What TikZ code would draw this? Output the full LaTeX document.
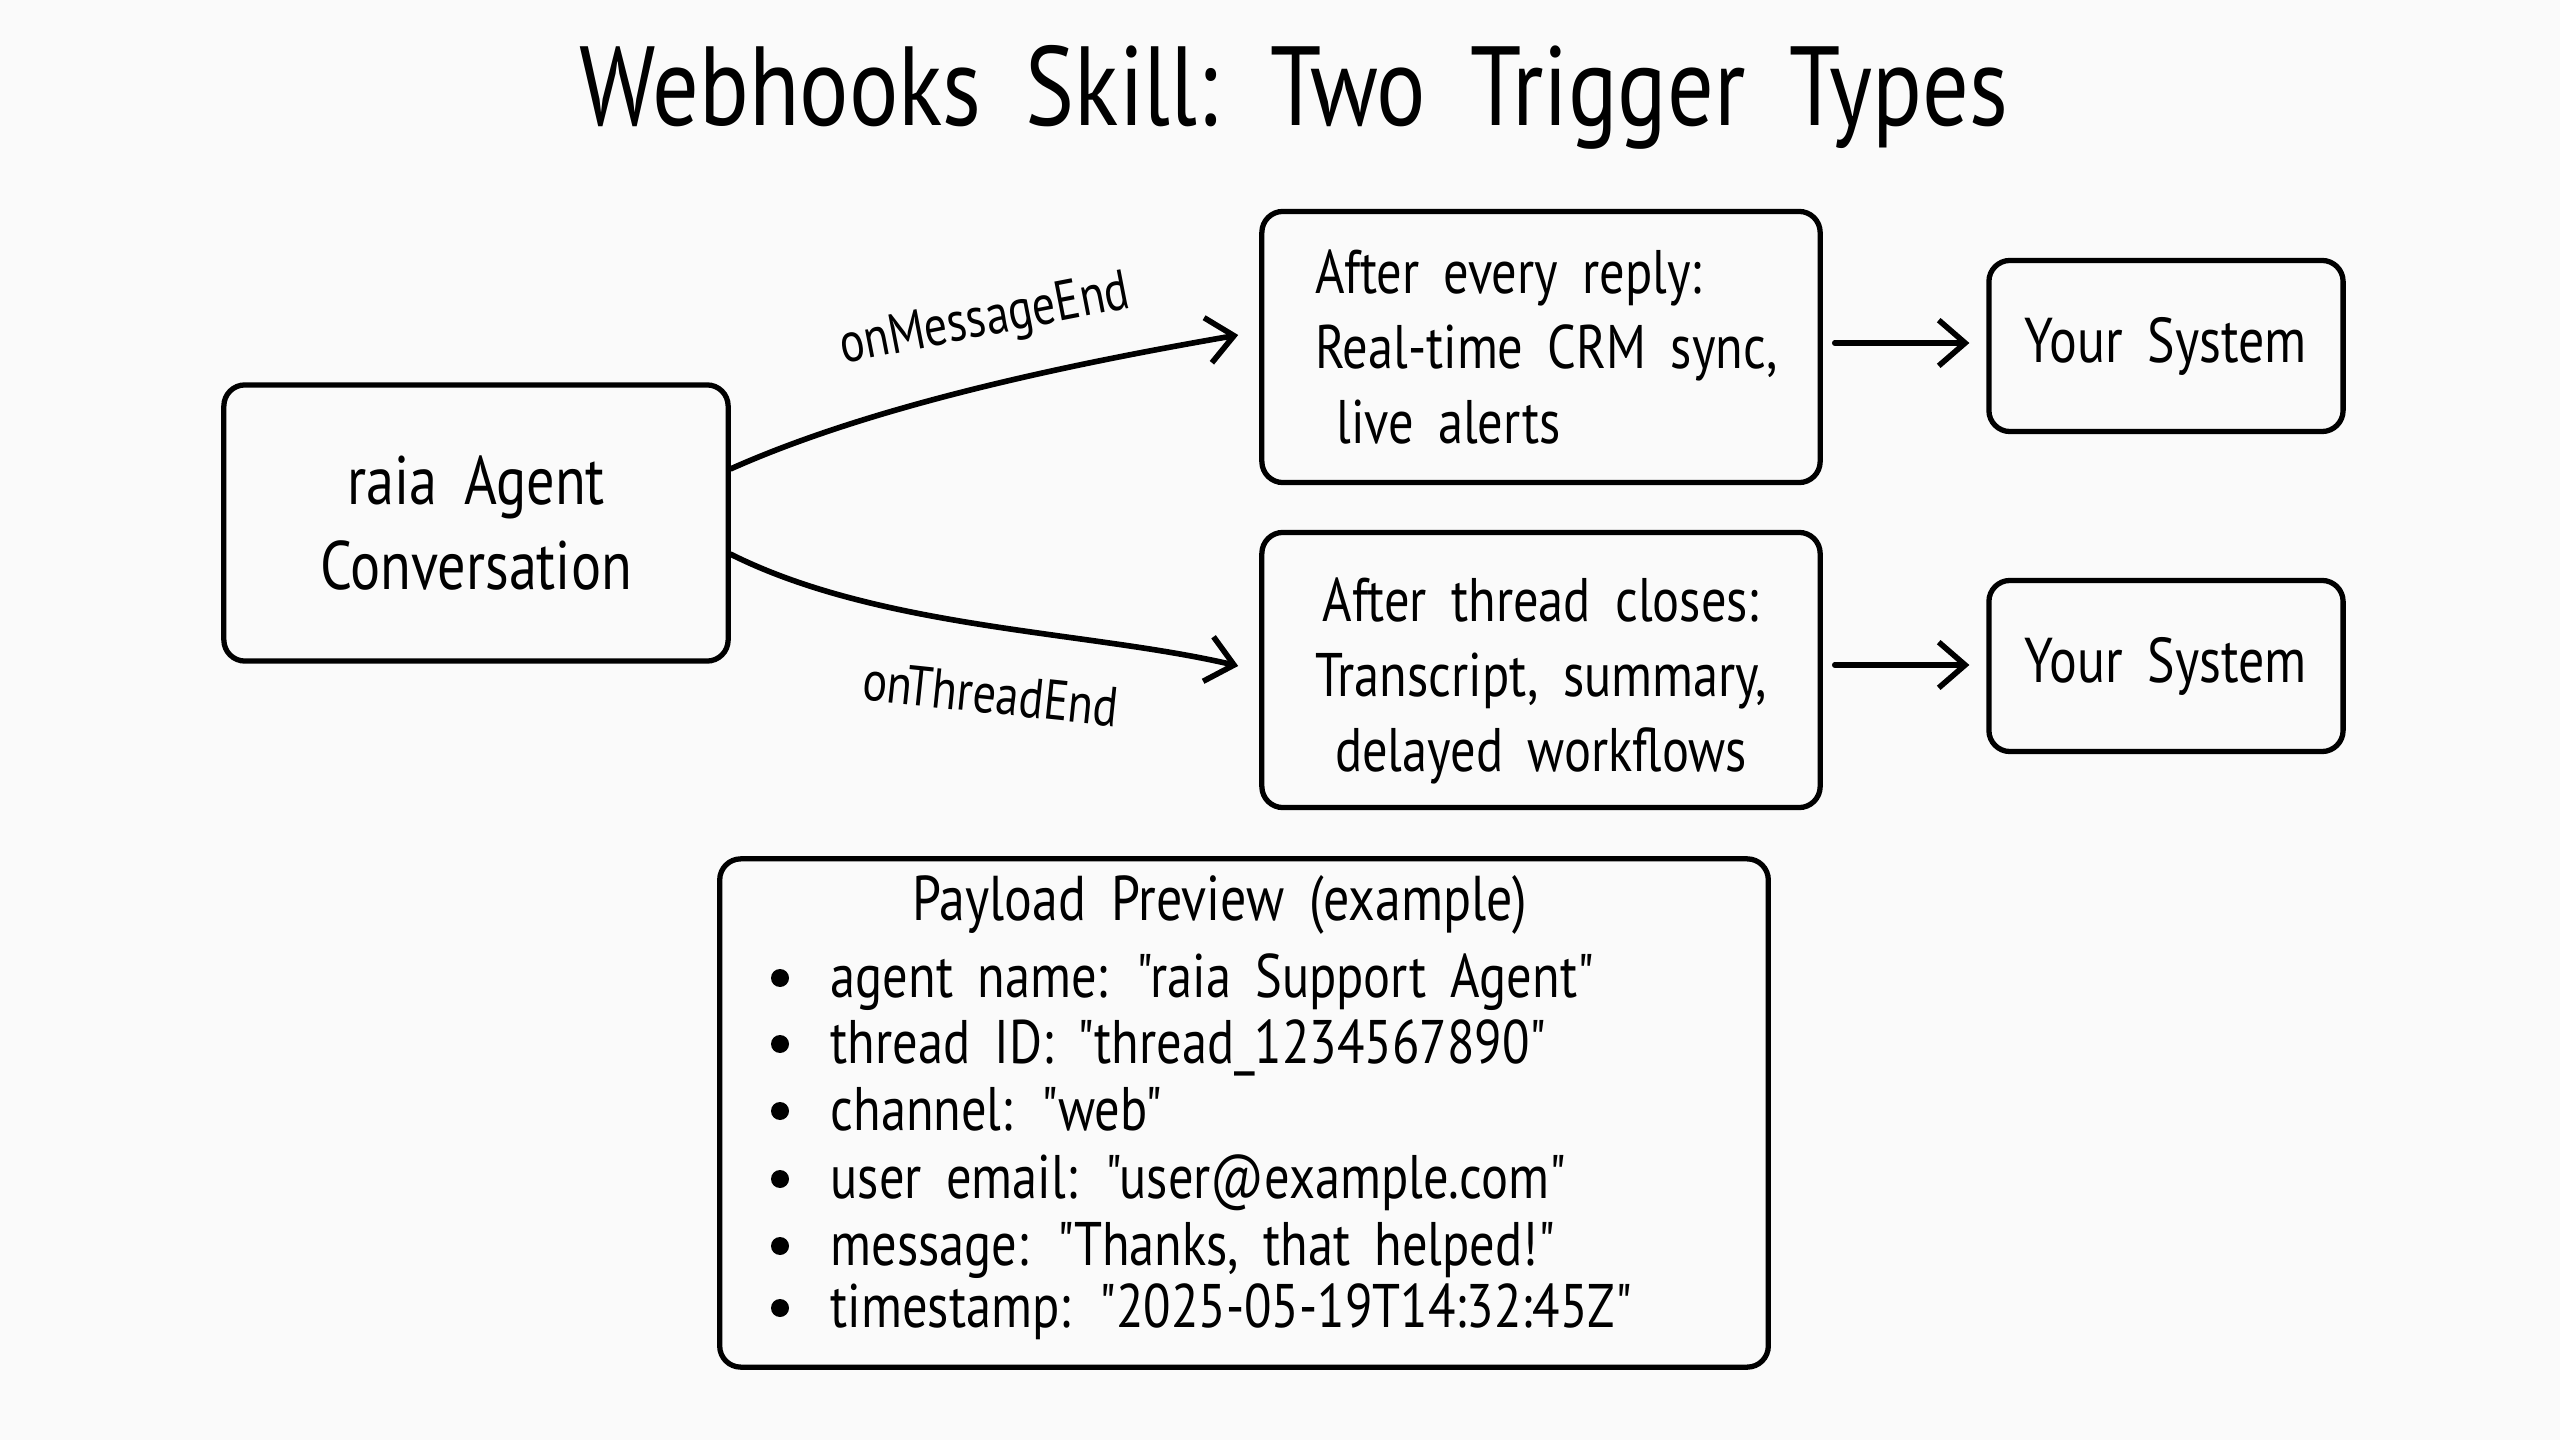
\documentclass[tikz,border=0pt]{standalone}
\usepackage{fontspec}
\setmainfont[FakeStretch=0.82, WordSpace=1.8, Ligatures=TeXOff]{PT Sans}
\usetikzlibrary{arrows.meta,calc}
\definecolor{bg}{RGB}{250,250,250}
\begin{document}
\begin{tikzpicture}[x=0.01cm,y=-0.01cm,
  box/.style={draw, line width=1.5pt, rounded corners=6pt, inner sep=0pt},
  conn/.style={line width=1.6pt, line cap=round, -{Straight Barb[length=7.5pt,width=13pt,line width=1.6pt]}},
  lbl/.style={inner sep=0pt, font=\fontsize{16}{18}\selectfont},
  boxtext/.style={font=\fontsize{17.5}{21.3}\selectfont},
  itemline/.style={anchor=base west, inner sep=0pt, font=\fontsize{17.5}{18}\selectfont},
  bulletdot/.style={fill=black}]
\fill[bg] (0,0) rectangle (2560,1440);
\useasboundingbox (0,0) rectangle (2560,1440);

\node[inner sep=0pt, anchor=base, font=\fontsize{32}{36}\selectfont] (title) at (1294,126) {Webhooks Skill: Two Trigger Types};

\node[box, minimum width=5.04cm, minimum height=2.76cm, align=center, font=\fontsize{19.5}{24}\selectfont] (conv) at (476,523) {raia Agent\\Conversation};

\node[box, boxtext, minimum width=5.58cm, minimum height=2.71cm, align=left] (msg) at (1541,347) {\hspace{3pt}After every reply:\\\hspace{3pt}Real-time CRM sync,\\\hspace{9pt}live alerts};
\node[box, boxtext, minimum width=5.58cm, minimum height=2.75cm, align=center] (thr) at (1541,670) {\rule{0pt}{18.6pt}After thread closes:\\Transcript, summary,\\delayed workflows};

\node[box, minimum width=3.54cm, minimum height=1.71cm, font=\fontsize{18}{22}\selectfont] (sys1) at (2166,346) {Your System};
\node[box, minimum width=3.54cm, minimum height=1.71cm, font=\fontsize{18}{22}\selectfont] (sys2) at (2166,666) {Your System};

\draw[conn] (conv.12) .. controls +(150,-67) and +(-150,26) .. ($(msg.west)+(-21,-12)$);
\draw[conn] (conv.-7) .. controls +(150,75) and +(-150,-35) .. ($(thr.west)+(-21,-4)$);
\node[lbl, rotate=11] (lm) at (985,322) {onMessageEnd};
\node[lbl, rotate=-6] (lt) at (991,694) {onThreadEnd};

\draw[conn, shorten <=3.4pt, shorten >=4.8pt] ($(msg.east)+(0,-4)$) -- ($(sys1.west)+(0,-3)$);
\draw[conn, shorten <=3.4pt, shorten >=4.8pt] ($(thr.east)+(0,-5)$) -- ($(sys2.west)+(0,-1)$);

\node[box, minimum width=10.48cm, minimum height=5.08cm] (payload) at (1244,1113) {};
\node[inner sep=0pt, anchor=base, font=\fontsize{18}{19}\selectfont] (ptitle) at (1220,921) {Payload Preview (example)};
\node[itemline] (i1) at (830,997) {agent name: "raia Support Agent"};
\node[itemline] (i2) at (830,1063) {thread ID: "thread\_1234567890"};
\node[itemline] (i3) at (830,1130) {channel: "web"};
\node[itemline] (i4) at (830,1198) {user email: "user@example.com"};
\node[itemline] (i5) at (830,1265) {message: "Thanks, that helped!"};
\node[itemline] (i6) at (830,1327) {timestamp: "2025-05-19T14:32:45Z"};
\foreach \i in {1,...,6}
  \fill[bulletdot] ($(i\i.base west)+(-50,-19)$) circle (9);
\end{tikzpicture}
\end{document}
